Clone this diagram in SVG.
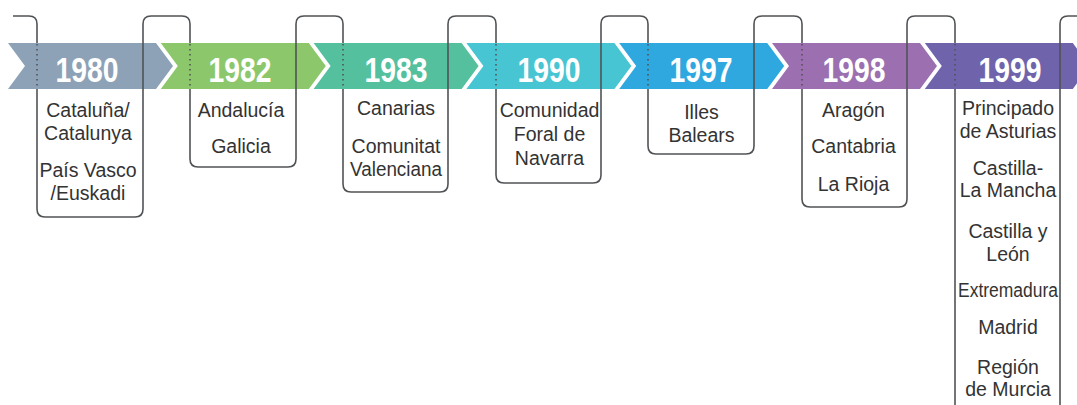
<svg xmlns="http://www.w3.org/2000/svg" width="1077" height="405" viewBox="0 0 1077 405">
<style>
.ln{fill:none;stroke:#505356;stroke-width:1.6;stroke-linejoin:round}
.dot{fill:none;stroke:#505356;stroke-width:1.6;stroke-dasharray:1.4 3.6}
.yr{font-family:"Liberation Sans",Arial,sans-serif;font-weight:bold;font-size:35px;fill:#fff;text-anchor:middle}
.lb{font-family:"Liberation Sans",Arial,sans-serif;font-size:19.5px;fill:#333;text-anchor:middle}
</style>
<rect width="1077" height="405" fill="#fff"/>
<g id="connectors">
<path class="ln" d="M13,16 H29 Q37,16 37,24 V209 Q37,217 45,217 H135 Q143,217 143,209 V24 Q143,16 151,16 H182 Q190,16 190,24 V159 Q190,167 198,167 H288 Q296,167 296,159 V24 Q296,16 304,16 H335 Q343,16 343,24 V184 Q343,192 351,192 H440 Q448,192 448,184 V24 Q448,16 456,16 H488 Q496,16 496,24 V175 Q496,183 504,183 H593 Q601,183 601,175 V24 Q601,16 609,16 H640 Q648,16 648,24 V146 Q648,154 656,154 H746 Q754,154 754,146 V24 Q754,16 762,16 H794 Q802,16 802,24 V199 Q802,207 810,207 H899 Q907,207 907,199 V24 Q907,16 915,16 H947 Q955,16 955,24 V410 M1060,410 V24 Q1060,16 1068,16 H1080"/>
</g>
<g id="n1980">
<polygon fill="#8DA2B7" points="8,43 156,43 173,66 156,89 8,89 25,66"/>
<text class="yr" x="87" y="81.5" textLength="63" lengthAdjust="spacingAndGlyphs">1980</text>
<text class="lb" x="88" y="117">Cataluña/</text>
<text class="lb" x="88" y="140">Catalunya</text>
<text class="lb" x="88" y="177">País Vasco</text>
<text class="lb" x="88" y="200">/Euskadi</text>
</g>
<g id="n1982">
<polygon fill="#8CC86B" points="160.8,43 308.8,43 325.8,66 308.8,89 160.8,89 177.8,66"/>
<text class="yr" x="240" y="81.5" textLength="63" lengthAdjust="spacingAndGlyphs">1982</text>
<text class="lb" x="241" y="117">Andalucía</text>
<text class="lb" x="241" y="153">Galicia</text>
</g>
<g id="n1983">
<polygon fill="#54C09E" points="313.6,43 461.6,43 478.6,66 461.6,89 313.6,89 330.6,66"/>
<text class="yr" x="396" y="81.5" textLength="63" lengthAdjust="spacingAndGlyphs">1983</text>
<text class="lb" x="396" y="115">Canarias</text>
<text class="lb" x="396" y="153">Comunitat</text>
<text class="lb" x="396" y="176" textLength="92" lengthAdjust="spacingAndGlyphs">Valenciana</text>
</g>
<g id="n1990">
<polygon fill="#48C5D3" points="466.4,43 614.4,43 631.4,66 614.4,89 466.4,89 483.4,66"/>
<text class="yr" x="549" y="81.5" textLength="63" lengthAdjust="spacingAndGlyphs">1990</text>
<text class="lb" x="549.5" y="117">Comunidad</text>
<text class="lb" x="549.5" y="141">Foral de</text>
<text class="lb" x="549.5" y="165">Navarra</text>
</g>
<g id="n1997">
<polygon fill="#2EA8DF" points="619.2,43 767.2,43 784.2,66 767.2,89 619.2,89 636.2,66"/>
<text class="yr" x="701" y="81.5" textLength="63" lengthAdjust="spacingAndGlyphs">1997</text>
<text class="lb" x="701.5" y="119">Illes</text>
<text class="lb" x="701.5" y="142">Balears</text>
</g>
<g id="n1998">
<polygon fill="#9B6FB0" points="772,43 920,43 937,66 920,89 772,89 789,66"/>
<text class="yr" x="854" y="81.5" textLength="63" lengthAdjust="spacingAndGlyphs">1998</text>
<text class="lb" x="853.5" y="117">Aragón</text>
<text class="lb" x="853.5" y="153">Cantabria</text>
<text class="lb" x="853.5" y="191">La Rioja</text>
</g>
<g id="n1999">
<polygon fill="#6F63AB" points="924.8,43 1072.8,43 1089.8,66 1072.8,89 924.8,89 941.8,66"/>
<text class="yr" x="1010" y="81.5" textLength="63" lengthAdjust="spacingAndGlyphs">1999</text>
<text class="lb" x="1008" y="115">Principado</text>
<text class="lb" x="1008" y="138">de Asturias</text>
<text class="lb" x="1008" y="175">Castilla-</text>
<text class="lb" x="1008" y="197">La Mancha</text>
<text class="lb" x="1008" y="238">Castilla y</text>
<text class="lb" x="1008" y="261">León</text>
<text class="lb" x="1008" y="297" textLength="100" lengthAdjust="spacingAndGlyphs">Extremadura</text>
<text class="lb" x="1008" y="334">Madrid</text>
<text class="lb" x="1008" y="374">Región</text>
<text class="lb" x="1008" y="396">de Murcia</text>
</g>
<g id="connector-overlay">
<path class="dot" d="M37,44 V89 M190,44 V89 M343,44 V89 M496,44 V89 M648,44 V89 M802,44 V89 M955,44 V89"/>
<path class="ln" d="M143,43 V89 M296,43 V89 M448,43 V89 M601,43 V89 M754,43 V89 M907,43 V89 M1060,43 V89"/>
</g>
</svg>
